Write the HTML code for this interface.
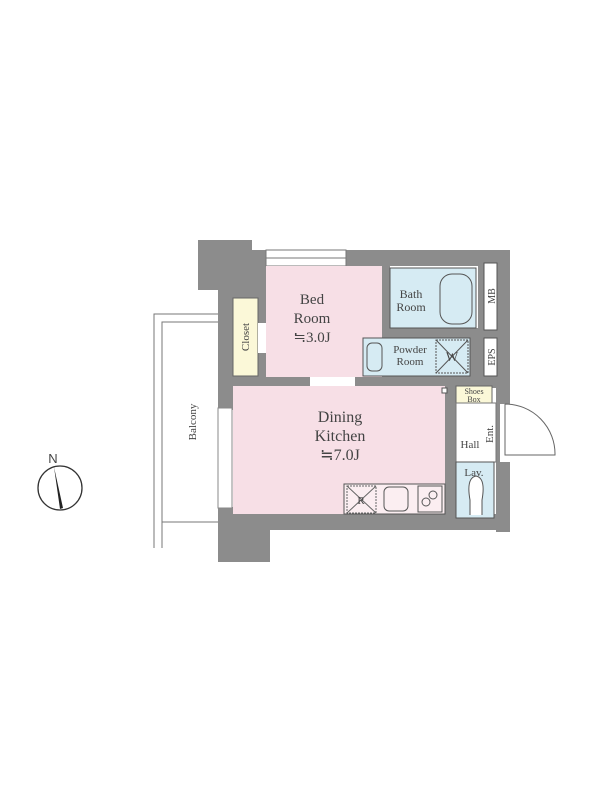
<!DOCTYPE html><html><head><style>body{margin:0;background:#fff}svg{display:block}text{font-family:"Liberation Serif",serif;fill:#444}</style></head><body>
<svg width="600" height="800" viewBox="0 0 600 800" xmlns="http://www.w3.org/2000/svg">
<!-- balcony -->
<g fill="none" stroke="#777" stroke-width="1">
<polyline points="154,548 154,314 218,314"/>
<polyline points="162,548 162,322 218,322"/>
<line x1="162" y1="522" x2="218" y2="522"/>
</g>
<text transform="translate(196,422) rotate(-90)" font-size="11" text-anchor="middle">Balcony</text>
<!-- walls -->
<g fill="#8c8c8c">
<rect x="198" y="240" width="54" height="50"/>
<rect x="218" y="250" width="292" height="16"/>
<rect x="218" y="250" width="48" height="160"/>
<rect x="218" y="507" width="52" height="55"/>
<rect x="218" y="514" width="290" height="16"/>
<rect x="496" y="250" width="14" height="282"/>
<rect x="500" y="404" width="12" height="58" fill="#fff"/>
<rect x="380" y="250" width="10" height="138"/>
<rect x="355" y="328" width="145" height="60"/>
<rect x="232" y="376" width="224" height="10"/>
<rect x="445" y="376" width="11" height="140"/>
<rect x="478" y="250" width="6" height="138"/>
<rect x="330" y="484" width="14" height="32"/>
</g>
<!-- top window -->
<rect x="266" y="250" width="80" height="16" fill="#fff" stroke="#777" stroke-width="1"/>
<line x1="266" y1="258" x2="346" y2="258" stroke="#777"/>
<!-- left window -->
<rect x="218" y="408" width="14" height="100" fill="#fff" stroke="#888" stroke-width="1"/>
<!-- rooms -->
<rect x="266" y="266" width="116" height="111" fill="#f7dfe6"/>
<rect x="233" y="298" width="25" height="78" fill="#fbf8d8" stroke="#666"/>
<rect x="258" y="323" width="8" height="30" fill="#fff"/>
<rect x="233" y="386" width="212" height="128" fill="#f7dfe6"/>
<rect x="310" y="377" width="45" height="9" fill="#fff"/>
<rect x="390" y="268" width="86" height="60" fill="#d6ebf3" stroke="#555"/>
<rect x="440" y="274" width="32" height="50" rx="12" fill="none" stroke="#555"/>
<rect x="484" y="263" width="13" height="67" fill="#fff" stroke="#555"/>
<rect x="363" y="338" width="107" height="38" fill="#d6ebf3" stroke="#555"/>
<rect x="367" y="343" width="15" height="28" rx="5" fill="none" stroke="#555"/>
<rect x="436" y="340" width="32" height="33" fill="none" stroke="#555" stroke-dasharray="2,1"/>
<path d="M436 340 L468 373 M468 340 L436 373" stroke="#555"/>
<rect x="484" y="338" width="13" height="38" fill="#fff" stroke="#555"/>
<rect x="456" y="386" width="36" height="17" fill="#fbf8d8" stroke="#666"/>
<rect x="456" y="403" width="40" height="59" fill="#fff" stroke="#777"/>
<rect x="456" y="462" width="38" height="56" fill="#d6ebf3" stroke="#555"/>
<path d="M470 515 L470 500 Q466 478 476 476 Q486 478 482 500 L482 515" fill="#fff" stroke="#555"/>
<rect x="442" y="388" width="5" height="5" fill="#fff" stroke="#555"/>
<!-- door -->
<path d="M505 404 L505 455 L555 455 A50 50 0 0 0 505 404" fill="#fff" stroke="#666"/>
<!-- kitchen -->
<rect x="344" y="484" width="101" height="30" fill="#fbeef1" stroke="#555"/>
<rect x="347" y="486" width="29" height="27" fill="none" stroke="#666" stroke-dasharray="2,1"/>
<path d="M347 486 L376 513 M376 486 L347 513" stroke="#666"/>
<rect x="384" y="487" width="24" height="24" rx="5" fill="none" stroke="#555"/>
<rect x="418" y="486" width="24" height="26" fill="none" stroke="#555"/>
<circle cx="426" cy="502" r="4" fill="none" stroke="#555"/><circle cx="433" cy="495" r="4" fill="none" stroke="#555"/>
<!-- labels -->
<text x="312" y="304" font-size="15" text-anchor="middle">Bed</text>
<text x="312" y="323" font-size="15" text-anchor="middle">Room</text>
<text x="312" y="342" font-size="15" text-anchor="middle">≒3.0J</text>
<text transform="translate(249,337) rotate(-90)" font-size="11" text-anchor="middle">Closet</text>
<text x="340" y="422" font-size="16" text-anchor="middle">Dining</text>
<text x="340" y="441" font-size="16" text-anchor="middle">Kitchen</text>
<text x="340" y="460" font-size="16" text-anchor="middle">≒7.0J</text>
<text x="411" y="298" font-size="12" text-anchor="middle">Bath</text>
<text x="411" y="311" font-size="12" text-anchor="middle">Room</text>
<text x="410" y="353" font-size="11" text-anchor="middle">Powder</text>
<text x="410" y="365" font-size="11" text-anchor="middle">Room</text>
<text x="452" y="361" font-size="13" text-anchor="middle">W</text>
<text transform="translate(495,296) rotate(-90)" font-size="10" text-anchor="middle">MB</text>
<text transform="translate(495,357) rotate(-90)" font-size="10" text-anchor="middle">EPS</text>
<text x="474" y="394" font-size="8" text-anchor="middle">Shoes</text>
<text x="474" y="402" font-size="8" text-anchor="middle">Box</text>
<text x="470" y="448" font-size="11" text-anchor="middle">Hall</text>
<text transform="translate(493,434) rotate(-90)" font-size="11" text-anchor="middle">Ent.</text>
<text x="474" y="476" font-size="11" text-anchor="middle">Lav.</text>
<text x="361" y="504" font-size="11" text-anchor="middle">R</text>
<!-- compass -->
<circle cx="60" cy="488" r="22" fill="none" stroke="#333" stroke-width="1.3"/>
<path d="M54 467 L63 508 L60 509 Z" fill="#222"/>
<text x="53" y="463" font-size="13" font-family="Liberation Sans" text-anchor="middle" style="font-family:'Liberation Sans',sans-serif">N</text>
</svg>
</body></html>
